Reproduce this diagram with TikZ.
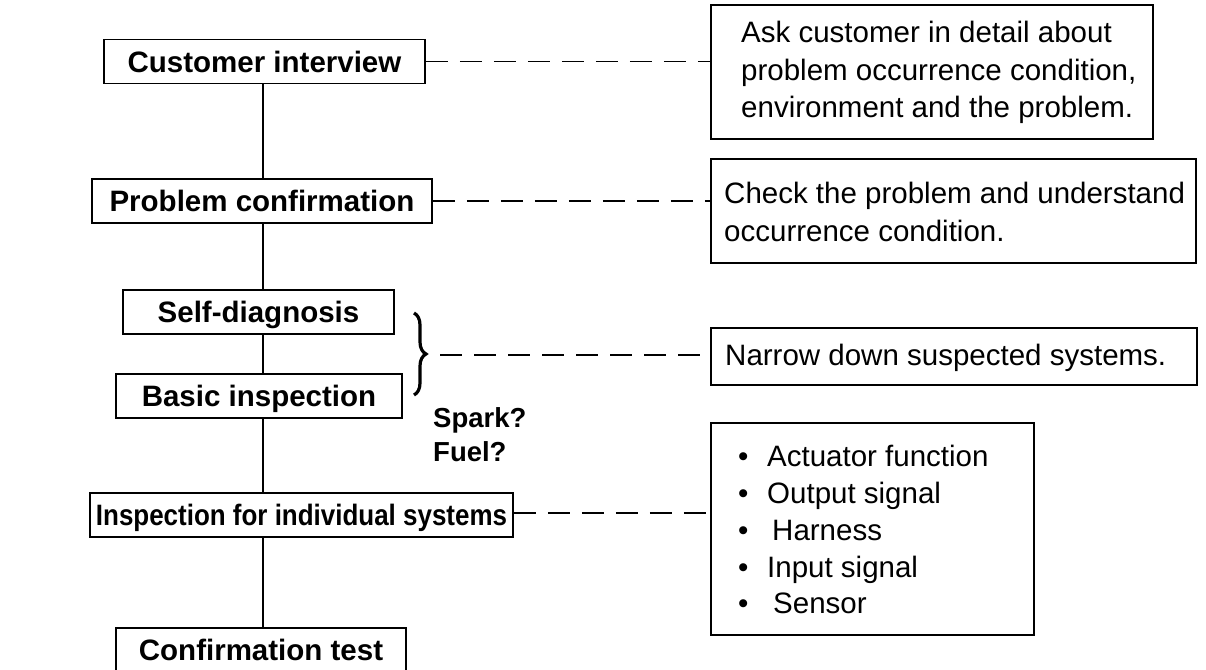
\documentclass[tikz,border=0pt]{standalone}
\usepackage{fontspec}
\setmainfont{Liberation Sans}
\usetikzlibrary{decorations.pathreplacing}
\begin{document}
\begin{tikzpicture}[x=1pt,y=-1pt,
  lbl/.style={draw, line width=1.8pt, font=\fontsize{29.5}{35}\selectfont\bfseries,
    inner sep=0pt, minimum height=44pt, text height=21.5pt, text depth=0pt},
  info/.style={draw, line width=1.8pt, inner sep=0pt},
  txt/.style={anchor=base west, inner sep=0pt, font=\fontsize{29.5}{35}\selectfont},
  qtxt/.style={anchor=base west, inner sep=0pt, font=\fontsize{27.5}{33}\selectfont\bfseries},
  dashline/.style={line width=1.9pt, dash pattern=on 22pt off 12pt},
  spineline/.style={line width=1.6pt}]
\clip (0,0) rectangle (1206,669);
\fill[white] (0,0) rectangle (1206,669);

% left column
\node[lbl, minimum width=321pt] (ci) at (264.5,61.5) {Customer interview};
\node[lbl, minimum width=340pt] (pc) at (262,201) {Problem confirmation};
\node[lbl, minimum width=271pt] (sd) at (258.5,312) {Self-diagnosis};
\node[lbl, minimum width=286pt] (bi) at (259,396) {Basic inspection};
\node[lbl, minimum width=423pt] (ii) at (301.5,515) {\scalebox{0.88}[1]{Inspection for individual systems}};
\node[lbl, minimum width=290pt] (ct) at (261,650) {Confirmation test};

\coordinate (sp) at (263,0);
\draw[spineline] (ci.south -| sp) -- (pc.north -| sp);
\draw[spineline] (pc.south -| sp) -- (sd.north -| sp);
\draw[spineline] (sd.south -| sp) -- (bi.north -| sp);
\draw[spineline] (bi.south -| sp) -- (ii.north -| sp);
\draw[spineline] (ii.south -| sp) -- (ct.north -| sp);

% brace and questions
\draw[line width=3.2pt, decorate, decoration={brace, amplitude=12pt}] (414,313) -- (414,395);
\coordinate (bt) at (440,355);
\node[qtxt] (spark) at (433,427) {Spark?};
\node[qtxt] (fuel) at (433,461) {Fuel?};

% right boxes
\node[info, minimum width=442pt, minimum height=134pt] (r1) at (932,72) {};
\node[info, minimum width=485pt, minimum height=104pt] (r2) at (953.5,211) {};
\node[info, minimum width=486pt, minimum height=57pt] (r3) at (954,356.5) {};
\node[info, minimum width=323pt, minimum height=212pt] (r4) at (872.5,529) {};

\node[txt] (r1a) at (741,43) {Ask customer in detail about};
\node[txt] (r1b) at (741,80) {problem occurrence condition,};
\node[txt] (r1c) at (741,117) {environment and the problem.};
\node[txt] (r2a) at (724,203) {Check the problem and understand};
\node[txt] (r2b) at (724,241) {occurrence condition.};
\node[txt] (r3a) at (725,365) {Narrow down suspected systems.};

\node[txt] (b1) at (738,466) {•};
\node[txt] (t1) at (767,466) {Actuator function};
\node[txt] (b2) at (738,503) {•};
\node[txt] (t2) at (767,503) {Output signal};
\node[txt] (b3) at (738,540) {•};
\node[txt] (t3) at (772,540) {Harness};
\node[txt] (b4) at (738,577) {•};
\node[txt] (t4) at (767,577) {Input signal};
\node[txt] (b5) at (738,613) {•};
\node[txt] (t5) at (773,613) {Sensor};

% dashed connectors
\draw[dashline] (ci.east) -- (ci.east -| r1.west);
\draw[dashline] (pc.east) -- (pc.east -| r2.west);
\draw[dashline] (bt) -- (bt -| r3.west);
\draw[dashline] ([yshift=2pt]ii.east) -- ([yshift=2pt]ii.east -| r4.west);
\end{tikzpicture}
\end{document}
